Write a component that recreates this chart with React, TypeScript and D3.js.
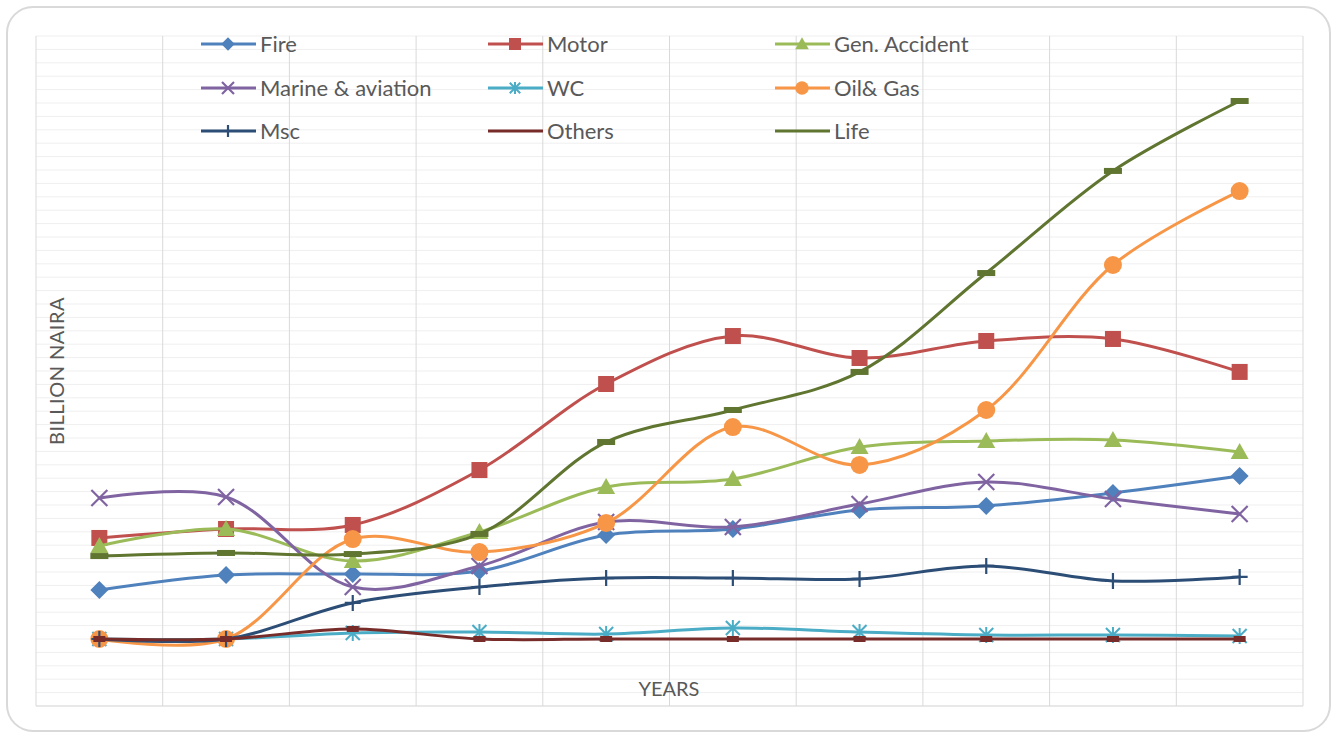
import React from "react";
import * as d3 from "d3";

// categories (no labels shown on the axis)
const years = ["1", "2", "3", "4", "5", "6", "7", "8", "9", "10"];

const fire = [36.6, 47.8, 48.5, 50.7, 77.6, 82.1, 96.3, 99.3, 109, 121.6];
const motor = [75.4, 82.1, 85.1, 126.1, 190.3, 226.1, 209.7, 222.4, 223.9, 199.3];
const genAccident = [69.4, 82.1, 58.2, 79.9, 113.4, 119.4, 143.3, 147.8, 148.5, 139.6];
const marine = [105.2, 106, 38.8, 54.5, 87.3, 83.6, 100.7, 117.2, 104.5, 93.3];
const wc = [0, 0, 4.5, 5.2, 3.7, 8.2, 5.2, 3, 3, 2.2];
const oilGas = [0, 0, 74.6, 64.9, 86.6, 158.2, 129.9, 170.9, 279.1, 334.3];
const msc = [0, 0, 26.9, 38.8, 45.5, 45.5, 44.8, 54.5, 43.3, 46.3];
const others = [0, 0, 7.5, 0, 0, 0, 0, 0, 0, 0];
const life = [61.9, 64.2, 63.4, 78.4, 147, 170.9, 199.3, 273.1, 349.3, 401.5];

const series = [
  { name: "Fire", values: fire, color: "#4f81bd", marker: "diamond", legendMarker: true },
  { name: "Motor", values: motor, color: "#c0504d", marker: "square", legendMarker: true },
  { name: "Gen. Accident", values: genAccident, color: "#9bbb59", marker: "triangle", legendMarker: true },
  { name: "Marine & aviation", values: marine, color: "#8064a2", marker: "x", legendMarker: true },
  { name: "WC", values: wc, color: "#4bacc6", marker: "star", legendMarker: true },
  { name: "Oil& Gas", values: oilGas, color: "#f79646", marker: "circle", legendMarker: true },
  { name: "Msc", values: msc, color: "#2c4d75", marker: "plus", legendMarker: true },
  { name: "Others", values: others, color: "#772c2a", marker: "smalldash", legendMarker: false },
  { name: "Life", values: life, color: "#5f7530", marker: "dash", legendMarker: false },
];

const W = 1337;
const H = 734;
const margin = { left: 36, right: 34, top: 36, bottom: 28 };
const FONT = "Lato, 'Open Sans', sans-serif";

function Marker({ type, x, y, color, k = 1 }: { type: string; x: number; y: number; color: string; k?: number }) {
  const s = (n: number) => n * k;
  switch (type) {
    case "diamond":
      return <path d={`M${x},${y - s(9)}L${x + s(9)},${y}L${x},${y + s(9)}L${x - s(9)},${y}Z`} fill={color} />;
    case "square":
      return <rect x={x - s(8)} y={y - s(8)} width={s(16)} height={s(16)} fill={color} />;
    case "triangle":
      return <path d={`M${x},${y - s(9)}L${x + s(9)},${y + s(7)}L${x - s(9)},${y + s(7)}Z`} fill={color} />;
    case "circle":
      return <circle cx={x} cy={y} r={s(9)} fill={color} />;
    case "x":
      return (
        <path
          d={`M${x - s(8)},${y - s(8)}L${x + s(8)},${y + s(8)}M${x - s(8)},${y + s(8)}L${x + s(8)},${y - s(8)}`}
          stroke={color}
          strokeWidth={2.2}
        />
      );
    case "star":
      return (
        <path
          d={`M${x - s(7)},${y - s(7)}L${x + s(7)},${y + s(7)}M${x - s(7)},${y + s(7)}L${x + s(7)},${y - s(7)}M${x},${y - s(8)}L${x},${y + s(8)}`}
          stroke={color}
          strokeWidth={2}
        />
      );
    case "plus":
      return (
        <path d={`M${x - s(8)},${y}L${x + s(8)},${y}M${x},${y - s(8)}L${x},${y + s(8)}`} stroke={color} strokeWidth={2.2} />
      );
    case "dash":
      return <rect x={x - 9} y={y - 3} width={18} height={6} fill={color} />;
    case "smalldash":
      return <rect x={x - 6} y={y - 3} width={12} height={6} fill={color} />;
    default:
      return null;
  }
}

export default function App() {
  const x = d3
    .scaleBand<string>()
    .domain(years)
    .range([margin.left, W - margin.right]);
  const y = d3
    .scaleLinear()
    .domain([-50, 450])
    .range([H - margin.bottom, margin.top]);

  const line = d3
    .line<number>()
    .x((_, i) => (x(years[i]) as number) + x.bandwidth() / 2)
    .y((v) => y(v))
    .curve(d3.curveCatmullRom.alpha(0.5));

  const hTicks = d3.range(-50, 451, 10);
  const vTicks = d3.range(0, years.length + 1).map((i) => margin.left + i * x.step());

  const legendCols = [201, 488, 775];
  const legendRows = [44, 88, 131];

  return (
    <svg width={W} height={H} style={{ position: "absolute", left: 0, top: 0 }} fontFamily={FONT}>
      <rect x={0} y={0} width={W} height={H} fill="#ffffff" />
      <rect x={7} y={7} width={1323} height={724} rx={26} ry={26} fill="#ffffff" stroke="#d9d9d9" strokeWidth={2} />
      {/* horizontal grid */}
      {hTicks.map((t) => (
        <line key={"h" + t} x1={margin.left} x2={W - margin.right} y1={y(t)} y2={y(t)} stroke="#efefef" strokeWidth={1} />
      ))}
      {/* vertical grid */}
      {vTicks.map((vx, i) => (
        <line key={"v" + i} x1={vx} x2={vx} y1={margin.top} y2={H - margin.bottom} stroke="#d9d9d9" strokeWidth={1} />
      ))}
      <line x1={margin.left} x2={W - margin.right} y1={H - margin.bottom} y2={H - margin.bottom} stroke="#d9d9d9" />

      {series.map((s) => (
        <g key={s.name}>
          <path d={line(s.values) || ""} fill="none" stroke={s.color} strokeWidth={3} strokeLinecap="round" />
          {s.values.map((v, i) => (
            <Marker key={i} type={s.marker} x={(x(years[i]) as number) + x.bandwidth() / 2} y={y(v)} color={s.color} />
          ))}
        </g>
      ))}

      {/* legend */}
      {series.map((s, i) => {
        const lx = legendCols[i % 3];
        const ly = legendRows[Math.floor(i / 3)];
        return (
          <g key={"lg" + s.name}>
            <line x1={lx} x2={lx + 55} y1={ly} y2={ly} stroke={s.color} strokeWidth={3} />
            {s.legendMarker && <Marker type={s.marker} x={lx + 27} y={ly} color={s.color} k={0.75} />}
            <text x={lx + 59} y={ly} dy="0.35em" fontSize={22} fill="#595959">
              {s.name}
            </text>
          </g>
        );
      })}

      <text
        transform={`translate(64,${371}) rotate(-90)`}
        textAnchor="middle"
        fontSize={20}
        letterSpacing={0.5}
        fill="#595959"
      >
        BILLION NAIRA
      </text>
      <text x={669} y={689} dy="0.35em" textAnchor="middle" fontSize={20} fill="#595959">
        YEARS
      </text>
    </svg>
  );
}
